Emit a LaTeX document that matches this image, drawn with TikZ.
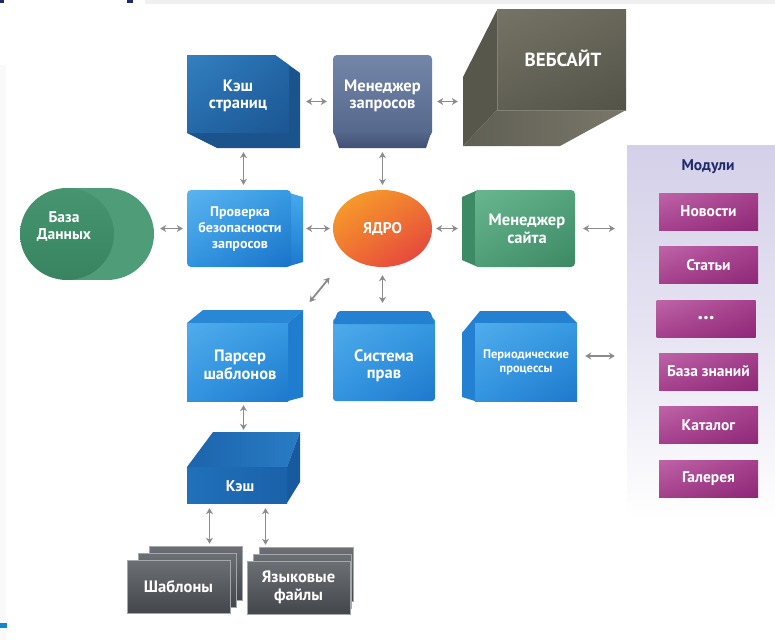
\documentclass[tikz,border=0pt]{standalone}
\usepackage{fontspec}
\setmainfont{PT Sans}
\usetikzlibrary{arrows.meta,shapes.geometric,shadings}
\definecolor{arrgrey}{HTML}{8B8B8B}
\definecolor{navy}{HTML}{1F2A6B}
\definecolor{modA}{HTML}{BE64A8}
\definecolor{modB}{HTML}{A5408C}
\definecolor{modC}{HTML}{8E2877}
\definecolor{cardA}{HTML}{6C7075}
\definecolor{cardB}{HTML}{43464A}
\definecolor{cardedge}{HTML}{A4A8AC}
\definecolor{webline}{RGB}{130,129,116}
\tikzset{
  box/.style={rectangle, inner sep=0pt, draw=none},
  lbl/.style={text=white, align=center, inner sep=0pt, font=\bfseries\fontsize{16.5}{17.5}\selectfont},
  arr/.style={draw=arrgrey, line width=1.8pt, {Stealth[length=6pt,width=7pt]}-{Stealth[length=6pt,width=7pt]}},
  modbox/.style={rectangle, minimum width=99pt, minimum height=37pt, inner sep=0pt,
     upper left=modA, upper right=modB, lower left=modB, lower right=modC,
     text=white, font=\bfseries\fontsize{15.5}{17}\selectfont},
  card/.style={draw=cardedge, line width=0.6pt, top color=cardA, bottom color=cardB},
}
\begin{document}
\begin{tikzpicture}[x=1pt,y=-1pt]
\useasboundingbox (0,0) rectangle (775,642);
\fill[white] (0,0) rectangle (775,642);
% edge fragments
\fill[gray!12] (145,0) rectangle (775,4);
\fill[gray!5] (0,65) rectangle (6,640);
\fill[navy] (0,0) rectangle (4,3);
\fill[navy] (127,0) rectangle (133,3);
\fill[cyan!70!blue] (0,623) rectangle (7,628);

% ===== Modules panel
\node[box, minimum width=148pt, minimum height=375pt] (mod) at (701,332.5) {};
\shade[top color={rgb,255:red,212;green,208;blue,233}, bottom color=white, middle color={rgb,255:red,230;green,228;blue,242}] (627,145) rectangle (775,520);
\node[text=navy, font=\bfseries\fontsize{15.5}{17}\selectfont] (modt) at (708,167) {Модули};
\node[modbox] (m1) at (708.5,211.5) {Новости};
\node[modbox] (m2) at (708.5,265) {Статьи};
\node[modbox, font=\bfseries\fontsize{22}{22}\selectfont] (m3) at (706,319) {\raisebox{3pt}{...}};
\node[modbox] (m4) at (708.5,371.5) {База знаний};
\node[modbox] (m5) at (708.5,425) {Каталог};
\node[modbox] (m6) at (708.5,478.5) {Галерея};

% ===== Кэш страниц
\node[box, minimum width=113pt, minimum height=93pt] (kp) at (243.5,101.5) {};
\fill[fill={rgb,255:red,27;green,84;blue,140}] (187,55) -- (275,55) -- (300,73) -- (300,148) -- (217,148) -- (187,133) -- cycle;
\shade[upper left={rgb,255:red,52;green,128;blue,192}, upper right={rgb,255:red,36;green,104;blue,168}, lower left={rgb,255:red,36;green,104;blue,168}, lower right={rgb,255:red,28;green,86;blue,146}] (187,55) -- (275,55) -- (289,65) -- (289,133) -- (187,133) -- cycle;
\node[lbl] (kpt) at (238,96) {Кэш\\страниц};

% ===== Менеджер запросов
\node[box, minimum width=99pt, minimum height=93pt] (mz) at (382.5,101.5) {};
\shade[top color={rgb,255:red,116;green,134;blue,168}, bottom color={rgb,255:red,84;green,103;blue,140}, rounded corners=4pt] (333,55) rectangle (432,136);
\shade[top color={rgb,255:red,88;green,106;blue,142}, bottom color={rgb,255:red,64;green,80;blue,116}] (333,130) -- (432,130) -- (426,148) -- (339,148) -- cycle;
\node[lbl] (mzt) at (382.5,96) {Менеджер\\запросов};

% ===== ВЕБСАЙТ
\node[box, minimum width=163pt, minimum height=136pt] (web) at (544.5,78) {};
\fill[fill={rgb,255:red,88;green,87;blue,75}] (463,77) -- (497,10) -- (497,110) -- (463,146) -- cycle;
\shade[upper left={rgb,255:red,116;green,115;blue,101}, upper right={rgb,255:red,104;green,103;blue,90}, lower left={rgb,255:red,96;green,95;blue,83}, lower right={rgb,255:red,84;green,83;blue,72}] (497,10) rectangle (626,110);
\shade[left color={rgb,255:red,96;green,95;blue,83}, right color={rgb,255:red,120;green,119;blue,106}] (463,146) -- (497,110) -- (626,110) -- (560,146) -- cycle;
\draw[draw=webline, line width=0.8pt] (497,10) -- (497,110) -- (626,110);
\node[lbl, font=\bfseries\fontsize{19}{21}\selectfont] (webt) at (563,58) {ВЕБСАЙТ};

% ===== База Данных
\node[box, minimum width=134pt, minimum height=94pt] (db) at (87,234) {};
\fill[fill={rgb,255:red,78;green,157;blue,120}] (107,234) ellipse [x radius=47, y radius=46];
\fill[fill={rgb,255:red,78;green,157;blue,120}] (67,188) rectangle (107,280);
\shade[top color={rgb,255:red,70;green,148;blue,112}, bottom color={rgb,255:red,56;green,132;blue,96}] (67,234) ellipse [x radius=47, y radius=46];
\node[lbl, font=\bfseries\fontsize{15.5}{17}\selectfont] (dbt) at (64,227) {База\\Данных};

% ===== Проверка безопасности запросов
\node[box, minimum width=116pt, minimum height=77pt] (pb) at (245,228.5) {};
\shade[top color={rgb,255:red,70;green,170;blue,238}, bottom color={rgb,255:red,28;green,120;blue,206}] (286,192) -- (303,197) -- (303,262) -- (286,267) -- cycle;
\shade[upper left={rgb,255:red,92;green,180;blue,240}, upper right={rgb,255:red,54;green,154;blue,226}, lower left={rgb,255:red,48;green,148;blue,224}, lower right={rgb,255:red,26;green,114;blue,200}, rounded corners=4pt] (187,190) rectangle (291,267);
\node[lbl, font=\bfseries\fontsize{14}{16}\selectfont] (pbt) at (240,229) {Проверка\\безопасности\\запросов};

% ===== ЯДРО
\node[ellipse, minimum width=99pt, minimum height=77pt, inner sep=0pt,
  upper left={rgb,255:red,248;green,168;blue,40}, upper right={rgb,255:red,240;green,120;blue,50},
  lower left={rgb,255:red,240;green,112;blue,50}, lower right={rgb,255:red,226;green,56;blue,66},
  text=white, font=\bfseries\fontsize{15.5}{17}\selectfont] (core) at (382.5,228.5) {ЯДРО};

% ===== Менеджер сайта
\node[box, minimum width=113pt, minimum height=77pt] (ms) at (518.5,228.5) {};
\fill[fill={rgb,255:red,60;green,138;blue,102}] (462,197) -- (478,190) -- (478,267) -- (462,260) -- cycle;
\shade[upper left={rgb,255:red,104;green,182;blue,144}, upper right={rgb,255:red,84;green,164;blue,126}, lower left={rgb,255:red,80;green,158;blue,120}, lower right={rgb,255:red,60;green,136;blue,100}, rounded corners=4pt] (475,190) rectangle (575,267);
\node[lbl] (mst) at (527,229) {Менеджер\\сайта};

% ===== Парсер шаблонов
\node[box, minimum width=116pt, minimum height=91pt] (ps) at (245,355.5) {};
\fill[fill={rgb,255:red,40;green,136;blue,214}] (187,323) -- (203,310) -- (303,310) -- (288,323) -- cycle;
\fill[fill={rgb,255:red,32;green,124;blue,206}] (288,323) -- (303,310) -- (303,397) -- (288,401) -- cycle;
\shade[upper left={rgb,255:red,80;green,172;blue,236}, upper right={rgb,255:red,54;green,154;blue,226}, lower left={rgb,255:red,50;green,148;blue,224}, lower right={rgb,255:red,30;green,120;blue,204}] (187,323) rectangle (288,401);
\node[lbl] (pst) at (240,365) {Парсер\\шаблонов};

% ===== Система прав
\node[box, minimum width=102pt, minimum height=90pt] (sp) at (384,356) {};
\shade[upper left={rgb,255:red,80;green,172;blue,236}, upper right={rgb,255:red,54;green,154;blue,226}, lower left={rgb,255:red,50;green,148;blue,224}, lower right={rgb,255:red,30;green,120;blue,204}, rounded corners=3pt] (333,318) rectangle (435,401);
\fill[fill={rgb,255:red,36;green,128;blue,208}, rounded corners=2pt] (333,324) -- (338,311) -- (430,311) -- (435,324) -- cycle;
\node[lbl] (spt) at (384,366) {Система\\прав};

% ===== Периодические процессы
\node[box, minimum width=115pt, minimum height=90pt] (pp) at (519.5,356) {};
\fill[fill={rgb,255:red,36;green,128;blue,208}] (462,333) -- (480,311) -- (565,311) -- (577,323) -- (475,323) -- (475,401) -- (462,397) -- cycle;
\shade[upper left={rgb,255:red,80;green,172;blue,236}, upper right={rgb,255:red,54;green,154;blue,226}, lower left={rgb,255:red,50;green,148;blue,224}, lower right={rgb,255:red,30;green,120;blue,204}] (475,323) rectangle (577,401);
\node[lbl, font=\bfseries\fontsize{12.5}{14}\selectfont] (ppt) at (526,362) {Периодические\\процессы};

% ===== Кэш
\node[box, minimum width=113pt, minimum height=71pt] (kc) at (243.5,467.5) {};
\shade[left color={rgb,255:red,28;green,100;blue,172}, right color={rgb,255:red,40;green,124;blue,196}] (187,467) -- (213,432) -- (300,432) -- (287,467) -- cycle;
\fill[fill={rgb,255:red,24;green,90;blue,160}] (287,467) -- (300,432) -- (300,482) -- (287,503) -- cycle;
\shade[left color={rgb,255:red,32;green,112;blue,186}, right color={rgb,255:red,26;green,98;blue,170}] (187,467) rectangle (287,503);
\node[lbl, font=\bfseries\fontsize{15.5}{17}\selectfont] (kct) at (240,486) {Кэш};

% ===== Шаблоны
\path[card] (149,546) rectangle (242,600);
\path[card] (138,553) rectangle (236,607);
\node[card, minimum width=103pt, minimum height=53pt, inner sep=0pt, text=white, font=\bfseries\fontsize{16.5}{17.5}\selectfont] (sh) at (178.5,586.5) {Шаблоны};

% ===== Языковые файлы
\path[card] (259,547) rectangle (353,601);
\path[card] (253,554) rectangle (351,608);
\node[card, minimum width=103pt, minimum height=53pt, inner sep=0pt, text=white, align=center, font=\bfseries\fontsize{16.5}{17.5}\selectfont] (lf) at (298.5,587.5) {Языковые\\файлы};

% ===== connectors
\draw[arr, shorten <=6pt, shorten >=6pt] (kp.east |- mz.east) -- (mz.west);
\draw[arr, shorten <=5pt, shorten >=5pt] (mz.east) -- (mz.east -| web.west);
\draw[arr, shorten <=4pt, shorten >=5pt] (kp.south) -- (kp.south |- pb.north);
\draw[arr, shorten <=4pt, shorten >=5pt] (mz.south) -- (core.north);
\draw[arr, shorten <=6pt, shorten >=4pt] (pb.west -| db.east) -- (pb.west);
\draw[arr, shorten <=3pt, shorten >=3pt] (pb.east) -- (core.west);
\draw[arr, shorten <=4pt, shorten >=4pt] (core.east) -- (ms.west);
\draw[arr, shorten <=8pt, shorten >=12pt] (ms.east) -- (ms.east -| mod.west);
\draw[arr, shorten <=8pt, shorten >=12pt] (pp.east) -- (pp.east -| mod.west);
\draw[arr, shorten <=8pt, shorten >=8pt] (core.south) -- (core.south |- sp.north);
\draw[arr, shorten <=10pt, shorten >=28pt] (ps.north east) -- (core.south west);
\draw[arr, shorten <=4pt, shorten >=2pt] (ps.south -| kc.north) -- (kc.north);
\draw[arr, shorten <=5pt, shorten >=16pt] ([xshift=-34pt]kc.south) -- ([xshift=-34pt]kc.south |- sh.north);
\draw[arr, shorten <=5pt, shorten >=16pt] ([xshift=22pt]kc.south) -- ([xshift=22pt]kc.south |- lf.north);
\end{tikzpicture}
\end{document}
